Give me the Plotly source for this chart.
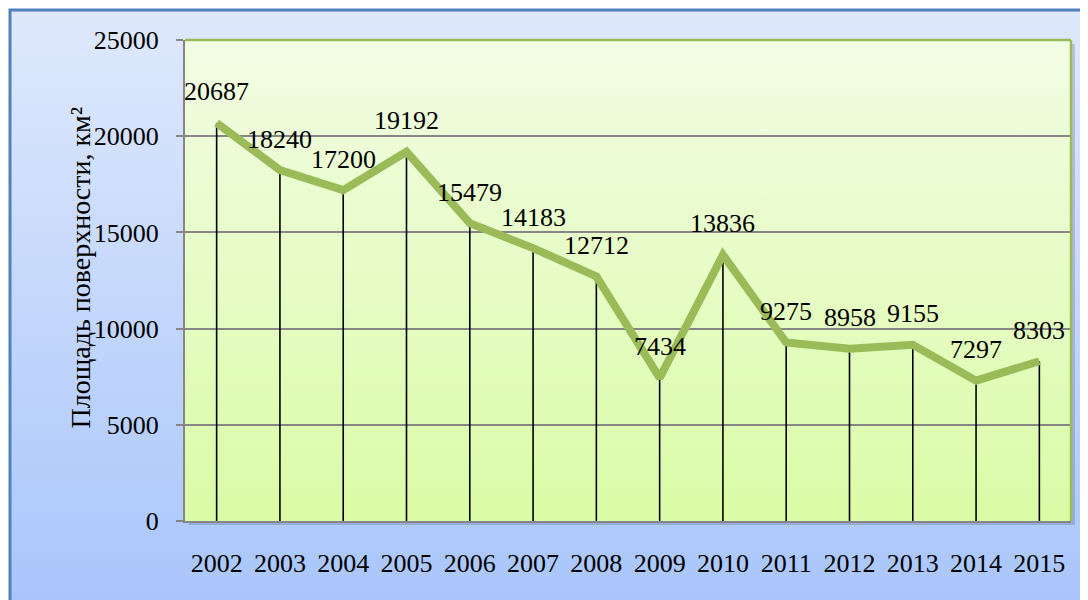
import base64
import plotly.graph_objects as go

years = ["2002", "2003", "2004", "2005", "2006", "2007", "2008",
         "2009", "2010", "2011", "2012", "2013", "2014", "2015"]
area = [20687, 18240, 17200, 19192, 15479, 14183, 12712,
        7434, 13836, 9275, 8958, 9155, 7297, 8303]
y_title = "Площадь поверхности, км²"

OFF = 8  # page body margin
W, H = 1088 - OFF, 600 - OFF
L, T = 185 - OFF, 40 - OFF
PW, PH = 886, 481
R, B = W - L - PW, H - T - PH
FONT = "Liberation Serif"


def grad_svg(c_top, c_bot):
    svg = ('<svg xmlns="http://www.w3.org/2000/svg" width="100" height="100" '
           'preserveAspectRatio="none"><defs><linearGradient id="g" x1="0" y1="0" '
           'x2="0" y2="1"><stop offset="0" stop-color="%s"/><stop offset="1" '
           'stop-color="%s"/></linearGradient></defs><rect width="100" height="100" '
           'fill="url(#g)"/></svg>') % (c_top, c_bot)
    return "data:image/svg+xml;base64," + base64.b64encode(svg.encode()).decode()


# page-pixel -> paper coordinates
def px_x(p):
    return (p - OFF - L) / PW


def px_y(p):
    return (T + PH - (p - OFF)) / PH


fig = go.Figure()

# drop lines
fig.add_trace(go.Scatter(
    x=years, y=area, mode="markers",
    marker=dict(size=0.1, color="rgba(0,0,0,0)"),
    error_y=dict(type="data", symmetric=False, array=[0] * len(area),
                 arrayminus=area, color="black", thickness=1.6, width=0),
    hoverinfo="skip", showlegend=False))

# main line
fig.add_trace(go.Scatter(
    x=years, y=area, mode="lines",
    line=dict(color="#9bbb59", width=8),
    hoverinfo="skip", showlegend=False))

for i, v in enumerate(area):
    fig.add_annotation(x=i, y=v, text=str(v), showarrow=False,
                       yanchor="middle", yshift=31,
                       font=dict(family=FONT, size=26, color="black"))

fig.add_annotation(xref="paper", yref="paper", x=px_x(62), y=px_y(268),
                   text=y_title, textangle=-90, showarrow=False,
                   font=dict(family=FONT, size=28, color="black"))

images = [
    dict(source=grad_svg("#dfe9fc", "#a8c5fb"), xref="paper", yref="paper",
         x=px_x(10), y=px_y(10), sizex=(1100 - 10) / PW, sizey=(612 - 10) / PH,
         xanchor="left", yanchor="top", sizing="stretch", layer="below"),
    dict(source=grad_svg("#f2fde4", "#dbfba6"), xref="paper", yref="paper",
         x=0, y=1, sizex=1, sizey=1,
         xanchor="left", yanchor="top", sizing="stretch", layer="below"),
]

sx, sy = 4 / PW, 4 / PH
shapes = [
    # outer frame
    dict(type="rect", xref="paper", yref="paper", x0=px_x(10), y0=px_y(612),
         x1=px_x(1100), y1=px_y(10), line=dict(color="#4f81bd", width=3),
         layer="below"),
    # plot-area drop shadow (right and bottom strips)
    dict(type="rect", xref="paper", yref="paper", x0=1, x1=1 + sx,
         y0=-sy, y1=1 - sy, line=dict(width=0),
         fillcolor="rgba(60,70,90,0.22)", layer="below"),
    dict(type="rect", xref="paper", yref="paper", x0=sx, x1=1,
         y0=-sy, y1=0, line=dict(width=0),
         fillcolor="rgba(60,70,90,0.22)", layer="below"),
    # plot top and right edges
    dict(type="line", xref="paper", yref="paper", x0=0, x1=1, y0=1, y1=1,
         line=dict(color="#9bbb59", width=2.5), layer="above"),
    dict(type="line", xref="paper", yref="paper", x0=1, x1=1, y0=0, y1=1,
         line=dict(color="#9bbb59", width=2.5), layer="above"),
]

fig.update_layout(
    width=W, height=H,
    margin=dict(l=L, r=R, t=T, b=B, pad=0),
    paper_bgcolor="white",
    plot_bgcolor="rgba(0,0,0,0)",
    images=images, shapes=shapes,
    showlegend=False,
    font=dict(family=FONT, size=26, color="black"),
    xaxis=dict(type="category", range=[-0.5, len(years) - 0.5],
               showgrid=False, showline=True, linecolor="#868686", linewidth=2,
               ticks="", ticklabelstandoff=18, zeroline=False,
               tickfont=dict(family=FONT, size=26, color="black"),
               fixedrange=True),
    yaxis=dict(range=[0, 25000], dtick=5000, tickformat="d", showgrid=True,
               gridcolor="#868686", gridwidth=1.5,
               showline=True, linecolor="#868686", linewidth=2,
               ticks="outside", ticklen=7, tickcolor="#868686", tickwidth=2,
               ticklabelstandoff=12, zeroline=False,
               tickfont=dict(family=FONT, size=26, color="black"),
               fixedrange=True),
)

fig.write_html("out.html")
